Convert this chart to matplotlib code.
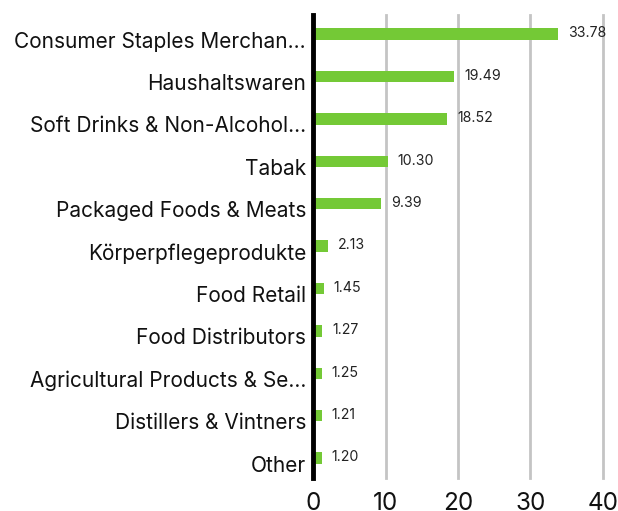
import matplotlib
matplotlib.use("Agg")
import matplotlib.pyplot as plt
import matplotlib.transforms as mtransforms

# data
categories = ['Consumer Staples Merchan...', 'Haushaltswaren', 'Soft Drinks & Non-Alcohol...',
              'Tabak', 'Packaged Foods & Meats', 'Körperpflegeprodukte', 'Food Retail',
              'Food Distributors', 'Agricultural Products & Se...', 'Distillers & Vintners', 'Other']
values = [33.78, 19.49, 18.52, 10.30, 9.39, 2.13, 1.45, 1.27, 1.25, 1.21, 1.20]
xticks = [0, 10, 20, 30, 40]

plt.rcParams['font.family'] = ['Inter', 'DejaVu Sans']

fig = plt.figure(figsize=(6.18, 5.11), dpi=100)
ax = fig.add_axes([0.5065, 0.0646, 0.4692, 0.906])

pos = list(range(len(categories)))
ax.barh(pos, values, height=0.27, color='#74c936', zorder=3)
for p, v in zip(pos, values):
    ax.annotate('%.2f' % v, (v, p), xytext=(7, 0.5), textcoords='offset points',
                va='center', ha='left', fontsize=10.2, color='#222222')

ax.set_ylim(10.47, -0.45)
ax.set_xlim(0, 40)
ax.set_yticks(pos)
ax.set_yticklabels(categories, fontsize=15, color='#111111')
ax.set_xticks(xticks)
ax.set_xticklabels([str(t) for t in xticks], fontsize=17.5, color='#111111')
ax.tick_params(axis='both', length=0)
ax.tick_params(axis='y', pad=5)
ax.tick_params(axis='x', pad=10)

# labels sit a bit lower than the bars
shift = mtransforms.ScaledTranslation(0, -4 / 72, fig.dpi_scale_trans)
for lab in ax.get_yticklabels():
    lab.set_transform(lab.get_transform() + shift)

ax.grid(axis='x', color='#c4c4c4', linewidth=2, zorder=0)
ax.grid(axis='y', visible=False)
for g in ax.xaxis.get_gridlines():
    g.set_clip_on(False)
for s in ['top', 'right', 'bottom']:
    ax.spines[s].set_visible(False)
ax.spines['left'].set_linewidth(3.5)
ax.spines['left'].set_color('black')
ax.spines['left'].set_zorder(4)

fig.savefig('out.png', dpi=100)
